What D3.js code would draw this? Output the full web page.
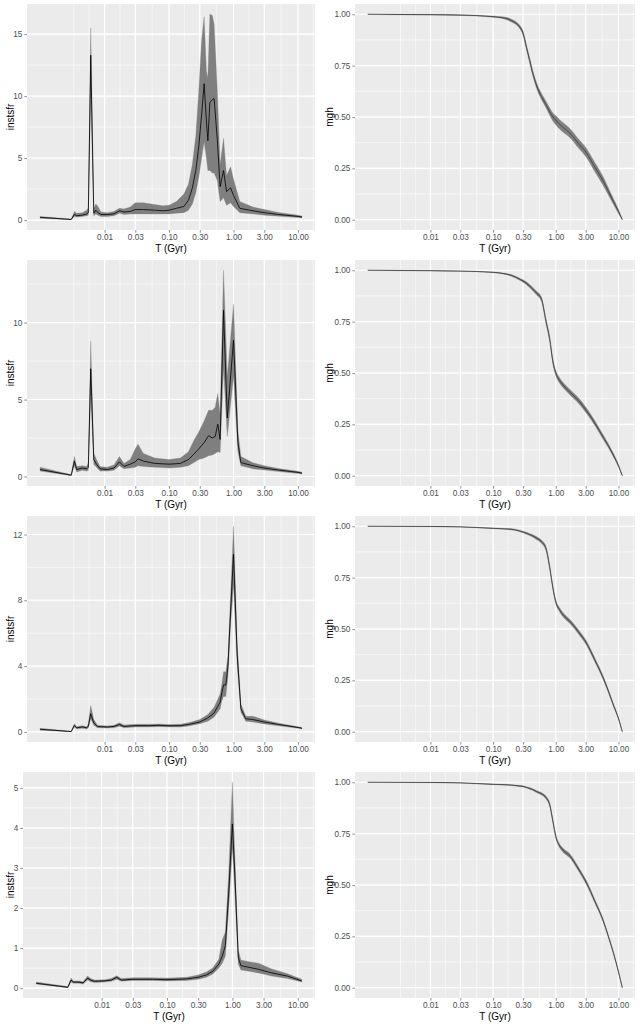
<!DOCTYPE html>
<html><head><meta charset="utf-8">
<script src="https://cdn.jsdelivr.net/npm/d3@7"></script>
<style>body{margin:0;background:#fff}svg{display:block}text{font-family:"Liberation Sans",Arial,sans-serif}</style>
</head><body><svg id="c" width="640" height="1024"></svg>
<script>
// ---------- shared axis data ----------
const xTickValues = [0.01, 0.03, 0.1, 0.3, 1, 3, 10];
const xTickLabels = ["0.01", "0.03", "0.10", "0.30", "1.00", "3.00", "10.00"];
const xTitle = "T (Gyr)";
const sfrTitle = "instsfr";
const mghTitle = "mgh";

// ---------- instsfr panels (left column) ----------
const sfrT1 = [0.001,0.00304,0.0034,0.0037,0.0045,0.0053,0.0056,0.0061,0.0068,0.0073,0.0079,0.0088,0.011,0.014,0.017,0.02,0.025,0.03,0.04,0.06,0.08,0.1,0.13,0.17,0.2,0.23,0.26,0.29,0.32,0.35,0.38,0.40,0.43,0.47,0.50,0.56,0.62,0.70,0.78,0.9,1.0,1.25,2,3,5,10,11.5];
const sfrMed1 = [0.22,0.05,0.45,0.35,0.4,0.5,0.6,13.3,0.55,0.8,0.6,0.45,0.45,0.5,0.75,0.65,0.7,0.85,0.85,0.8,0.75,0.8,0.95,1.1,1.6,2.6,4.0,6.0,8.5,11.0,8.0,6.4,9.5,9.7,9.8,6.5,2.7,4.0,2.3,2.6,2.0,0.95,0.75,0.6,0.45,0.3,0.25];
const sfrLo1  = [0.15,0.03,0.3,0.25,0.3,0.35,0.4,10.5,0.35,0.5,0.4,0.3,0.3,0.35,0.55,0.45,0.5,0.5,0.5,0.5,0.5,0.5,0.55,0.6,0.8,1.3,2.2,3.5,5.0,6.3,5.0,4.0,4.0,3.8,3.8,3.2,1.5,1.8,1.2,1.4,1.1,0.6,0.5,0.4,0.32,0.2,0.17];
const sfrHi1  = [0.3,0.08,0.7,0.55,0.6,0.8,1.0,15.5,0.9,1.3,1.1,0.65,0.6,0.7,0.95,0.9,1.05,1.4,1.4,1.25,1.15,1.2,1.5,2.1,2.9,4.5,6.8,10.5,14.5,16.4,12.0,11.5,16.6,16.5,15.8,10.5,4.5,6.6,3.6,4.3,3.3,1.5,1.05,0.85,0.62,0.4,0.33];
const sfrTicks1 = [0, 5, 10, 15];

const sfrT2 = [0.001,0.00304,0.0034,0.0037,0.0045,0.0053,0.0056,0.0061,0.0068,0.0075,0.0085,0.011,0.014,0.017,0.02,0.025,0.03,0.033,0.04,0.06,0.1,0.15,0.2,0.24,0.29,0.35,0.41,0.47,0.52,0.57,0.62,0.70,0.80,1.0,1.17,1.3,2,3,5,10,11.5];
const sfrMed2 = [0.45,0.09,1.0,0.45,0.55,0.5,0.6,7.0,1.1,0.8,0.5,0.45,0.55,0.95,0.65,0.8,0.95,1.15,1.0,0.85,0.8,0.85,1.1,1.43,1.8,2.2,2.65,2.5,2.6,3.4,2.4,10.8,3.8,8.85,2.2,0.9,0.7,0.55,0.42,0.27,0.22];
const sfrLo2  = [0.35,0.05,0.7,0.3,0.4,0.35,0.4,5.5,0.8,0.6,0.35,0.35,0.4,0.7,0.5,0.55,0.6,0.7,0.65,0.6,0.55,0.6,0.7,0.9,1.1,1.2,1.35,1.4,1.5,1.6,1.56,7.0,2.6,6.5,1.6,0.7,0.5,0.42,0.32,0.2,0.16];
const sfrHi2  = [0.6,0.12,1.3,0.65,0.7,0.65,0.9,8.8,1.5,1.1,0.65,0.6,0.75,1.3,0.85,1.1,1.8,2.1,1.5,1.2,1.1,1.2,1.6,2.3,2.9,3.6,4.3,4.3,4.5,5.4,4.0,13.4,6.5,11.2,3.0,1.3,0.9,0.7,0.52,0.34,0.28];
const sfrTicks2 = [0, 5, 10];

const sfrT3 = [0.001,0.00304,0.0034,0.0037,0.0045,0.0053,0.0056,0.0061,0.0068,0.0078,0.011,0.014,0.017,0.02,0.03,0.05,0.07,0.1,0.15,0.2,0.3,0.4,0.5,0.62,0.66,0.70,0.76,0.82,0.9,1.0,1.14,1.3,1.55,2,3,5,10,11.5];
const sfrMed3 = [0.16,0.02,0.4,0.25,0.3,0.25,0.35,1.1,0.55,0.32,0.3,0.33,0.45,0.33,0.38,0.38,0.4,0.37,0.38,0.45,0.6,0.85,1.15,1.8,2.4,2.85,2.85,4.0,7.3,10.8,4.7,1.42,0.8,0.75,0.6,0.45,0.27,0.22];
const sfrLo3  = [0.1,0.01,0.3,0.18,0.22,0.18,0.25,0.8,0.4,0.25,0.23,0.25,0.35,0.25,0.3,0.3,0.32,0.3,0.3,0.36,0.5,0.65,0.9,1.4,1.9,2.15,2.15,3.4,6.5,8.9,4.0,1.2,0.65,0.6,0.48,0.37,0.22,0.18];
const sfrHi3  = [0.22,0.04,0.5,0.32,0.38,0.32,0.5,1.6,0.75,0.4,0.36,0.4,0.55,0.42,0.46,0.46,0.48,0.45,0.46,0.55,0.75,1.05,1.5,2.3,2.9,3.65,3.65,4.6,8.2,12.5,5.4,1.7,0.95,0.95,0.72,0.53,0.32,0.26];
const sfrTicks3 = [0, 4, 8, 12];

const sfrT4 = [0.001,0.00304,0.0034,0.0037,0.0045,0.0052,0.0061,0.0068,0.0078,0.011,0.014,0.017,0.02,0.03,0.06,0.1,0.2,0.3,0.4,0.5,0.62,0.7,0.78,0.88,1.0,1.08,1.23,1.35,1.8,2.5,4,7,11.5];
const sfrMed4 = [0.12,0.02,0.2,0.15,0.15,0.13,0.25,0.2,0.17,0.18,0.2,0.27,0.2,0.22,0.22,0.21,0.23,0.27,0.33,0.42,0.6,0.8,1.05,2.4,4.1,3.0,0.77,0.56,0.52,0.47,0.38,0.3,0.18];
const sfrLo4  = [0.1,0.01,0.15,0.12,0.12,0.1,0.2,0.16,0.14,0.15,0.17,0.22,0.17,0.19,0.19,0.18,0.19,0.22,0.27,0.35,0.5,0.62,0.8,2.0,3.5,2.5,0.6,0.45,0.42,0.38,0.3,0.24,0.15];
const sfrHi4  = [0.15,0.04,0.25,0.18,0.18,0.16,0.3,0.24,0.2,0.21,0.24,0.31,0.24,0.26,0.26,0.25,0.27,0.33,0.4,0.5,0.72,1.2,1.4,2.9,5.14,3.5,0.95,0.7,0.66,0.62,0.48,0.36,0.22];
const sfrTicks4 = [0, 1, 2, 3, 4, 5];

// ---------- mgh panels (right column) ----------
const mghT = [0.001,0.003,0.01,0.03,0.1,0.16,0.2,0.26,0.3,0.34,0.38,0.43,0.49,0.59,0.7,0.8,0.9,1.0,1.16,1.3,1.7,2.3,3.1,4.2,5.75,6.9,8.3,10,11.5];
const mghMed1 = [1.0,0.999,0.998,0.996,0.988,0.98,0.968,0.942,0.908,0.84,0.78,0.713,0.656,0.6,0.56,0.526,0.5,0.484,0.463,0.45,0.42,0.371,0.324,0.256,0.186,0.138,0.089,0.04,0.0];
const mghLo1  = [1.0,0.997,0.996,0.994,0.985,0.975,0.961,0.934,0.898,0.828,0.767,0.7,0.642,0.585,0.544,0.508,0.48,0.462,0.44,0.427,0.398,0.349,0.302,0.234,0.165,0.12,0.075,0.03,0.0];
const mghHi1  = [1.0,1.0,1.0,0.998,0.991,0.985,0.975,0.95,0.918,0.852,0.793,0.726,0.67,0.615,0.576,0.544,0.52,0.506,0.486,0.473,0.442,0.393,0.346,0.278,0.207,0.156,0.103,0.05,0.004];
const mghMed2 = [1.0,0.999,0.998,0.996,0.99,0.982,0.974,0.958,0.948,0.937,0.924,0.908,0.89,0.86,0.75,0.665,0.555,0.5,0.462,0.442,0.405,0.366,0.316,0.256,0.186,0.146,0.1,0.049,0.0];
const mghLo2  = [1.0,0.998,0.997,0.995,0.988,0.979,0.97,0.953,0.942,0.93,0.916,0.9,0.881,0.85,0.738,0.652,0.542,0.488,0.449,0.429,0.392,0.353,0.303,0.244,0.175,0.136,0.091,0.043,0.0];
const mghHi2  = [1.0,1.0,0.999,0.997,0.992,0.985,0.978,0.963,0.954,0.944,0.932,0.916,0.899,0.87,0.762,0.678,0.568,0.512,0.475,0.455,0.418,0.379,0.329,0.268,0.197,0.156,0.109,0.055,0.003];
const mghMed3 = [1.0,0.9995,0.999,0.997,0.99,0.987,0.985,0.978,0.972,0.966,0.96,0.953,0.943,0.925,0.89,0.8,0.7,0.632,0.592,0.57,0.535,0.486,0.43,0.349,0.26,0.198,0.13,0.065,0.0];
const mghLo3  = [1.0,0.999,0.998,0.996,0.988,0.985,0.982,0.975,0.968,0.961,0.955,0.947,0.936,0.917,0.88,0.789,0.69,0.623,0.582,0.56,0.525,0.476,0.42,0.339,0.251,0.19,0.123,0.06,0.0];
const mghHi3  = [1.0,1.0,1.0,0.998,0.992,0.989,0.988,0.981,0.976,0.971,0.965,0.959,0.95,0.933,0.9,0.811,0.71,0.641,0.602,0.58,0.545,0.496,0.44,0.359,0.269,0.206,0.137,0.07,0.003];
const mghMed4 = [1.0,0.9995,0.999,0.997,0.99,0.988,0.986,0.982,0.98,0.975,0.97,0.964,0.955,0.944,0.925,0.891,0.81,0.737,0.689,0.67,0.64,0.578,0.51,0.421,0.324,0.25,0.17,0.078,0.0];
const mghLo4  = [1.0,0.999,0.998,0.996,0.988,0.986,0.984,0.979,0.977,0.972,0.966,0.96,0.95,0.938,0.918,0.882,0.8,0.728,0.68,0.66,0.63,0.568,0.5,0.412,0.316,0.243,0.164,0.073,0.0];
const mghHi4  = [1.0,1.0,1.0,0.998,0.992,0.99,0.988,0.985,0.983,0.978,0.974,0.968,0.96,0.95,0.932,0.9,0.82,0.746,0.698,0.68,0.65,0.588,0.52,0.43,0.332,0.257,0.176,0.083,0.003];
const mghTicks = [0, 0.25, 0.5, 0.75, 1];

// ---------- drawing ----------
const svg = d3.select("#c");
const BG = "#EBEBEB", RIB = "#7F7F7F";
const FONT = '"Liberation Sans",Arial,sans-serif';

function minorBreaks(b, lim) {
  const bd = b[1] - b[0];
  const bb = [b[0] - bd, ...b, b[b.length - 1] + bd];
  const out = [];
  for (let i = 0; i < bb.length - 1; i++) { out.push(bb[i], (bb[i] + bb[i + 1]) / 2); }
  out.push(bb[bb.length - 1]);
  return out.filter(v => v >= lim[0] && v <= lim[1]);
}

function drawPanel(c) {
  const g = svg.append("g");
  const lmin = Math.log10(d3.min(c.t)), lmax = Math.log10(d3.max(c.t));
  const px = (lmax - lmin) * 0.05;
  const x = d3.scaleLog().domain([10 ** (lmin - px), 10 ** (lmax + px)]).range([c.x0, c.x1]);
  const ymin = d3.min(c.lo), ymax = d3.max(c.hi), py = (ymax - ymin) * 0.05;
  const y = d3.scaleLinear().domain([ymin - py, ymax + py]).range([c.y1, c.y0]);

  g.append("rect").attr("x", c.x0).attr("y", c.y0).attr("width", c.x1 - c.x0).attr("height", c.y1 - c.y0).attr("fill", BG);

  const lx = xTickValues.map(Math.log10);
  const xMin = minorBreaks(lx, [lmin - px, lmax + px]);
  const yMin = minorBreaks(c.yTicks, y.domain());
  g.selectAll(".vxm").data(xMin).join("line")
    .attr("x1", d => x(10 ** d)).attr("x2", d => x(10 ** d)).attr("y1", c.y0).attr("y2", c.y1)
    .attr("stroke", "#fff").attr("stroke-width", 0.55);
  g.selectAll(".hym").data(yMin).join("line")
    .attr("y1", d => y(d)).attr("y2", d => y(d)).attr("x1", c.x0).attr("x2", c.x1)
    .attr("stroke", "#fff").attr("stroke-width", 0.55);
  g.selectAll(".vx").data(xTickValues).join("line")
    .attr("x1", d => x(d)).attr("x2", d => x(d)).attr("y1", c.y0).attr("y2", c.y1)
    .attr("stroke", "#fff").attr("stroke-width", 1.1);
  g.selectAll(".hy").data(c.yTicks).join("line")
    .attr("y1", d => y(d)).attr("y2", d => y(d)).attr("x1", c.x0).attr("x2", c.x1)
    .attr("stroke", "#fff").attr("stroke-width", 1.1);

  const rows = c.t.map((t, i) => ({ t, m: c.med[i], lo: c.lo[i], hi: c.hi[i] }));
  const curve = c.smooth ? d3.curveMonotoneX : d3.curveLinear;
  const area = d3.area().x(d => x(d.t)).y0(d => y(d.lo)).y1(d => y(d.hi)).curve(curve);
  const line = d3.line().x(d => x(d.t)).y(d => y(d.m)).curve(curve);
  g.append("path").datum(rows).attr("d", area).attr("fill", RIB).attr("stroke", RIB).attr("stroke-width", 0.3);
  g.append("path").datum(rows).attr("d", line).attr("fill", "none").attr("stroke", c.lineColor).attr("stroke-width", c.lineWidth);

  const xa = d3.axisBottom(x).tickValues(xTickValues).tickFormat((d, i) => xTickLabels[i]).tickSize(2.7).tickPadding(1.6);
  const ya = d3.axisLeft(y).tickValues(c.yTicks).tickFormat(c.yFmt).tickSize(2.7).tickPadding(2);
  const gx = g.append("g").attr("transform", `translate(0,${c.y1})`).call(xa);
  const gy = g.append("g").attr("transform", `translate(${c.x0},0)`).call(ya);
  [gx, gy].forEach(a => {
    a.select(".domain").remove();
    a.selectAll(".tick line").attr("stroke", "#333").attr("stroke-width", 0.55);
    a.selectAll(".tick text").attr("fill", "#4D4D4D").attr("font-size", 8.2).attr("font-family", FONT);
  });

  g.append("text").attr("x", (c.x0 + c.x1) / 2).attr("y", c.y1 + 21.5).attr("text-anchor", "middle")
    .attr("font-size", 10).attr("fill", "#000").text(xTitle);
  g.append("text").attr("transform", `translate(${c.titleX},${(c.y0 + c.y1) / 2}) rotate(-90)`)
    .attr("text-anchor", "middle").attr("font-size", 10).attr("fill", "#000").text(c.yTitle);
}

const sfrSets = [
  [sfrT1, sfrMed1, sfrLo1, sfrHi1, sfrTicks1],
  [sfrT2, sfrMed2, sfrLo2, sfrHi2, sfrTicks2],
  [sfrT3, sfrMed3, sfrLo3, sfrHi3, sfrTicks3],
  [sfrT4, sfrMed4, sfrLo4, sfrHi4, sfrTicks4]
];
const mghSets = [
  [mghMed1, mghLo1, mghHi1],
  [mghMed2, mghLo2, mghHi2],
  [mghMed3, mghLo3, mghHi3],
  [mghMed4, mghLo4, mghHi4]
];

sfrSets.forEach((s, r) => {
  const top = r * 256;
  drawPanel({
    t: s[0], med: s[1], lo: s[2], hi: s[3], yTicks: s[4], yFmt: d3.format("d"),
    x0: r === 3 ? 23 : 27, x1: 315, y0: top + 4, y1: top + 230,
    yTitle: sfrTitle, titleX: 13.5, smooth: false, lineColor: "#000", lineWidth: 0.8
  });
});
mghSets.forEach((s, r) => {
  const top = r * 256;
  drawPanel({
    t: mghT, med: s[0], lo: s[1], hi: s[2], yTicks: mghTicks, yFmt: d3.format(".2f"),
    x0: 355, x1: 635, y0: top + 4, y1: top + 230,
    yTitle: mghTitle, titleX: 333, smooth: true, lineColor: "#333", lineWidth: 0.7
  });
});
</script></body></html>
